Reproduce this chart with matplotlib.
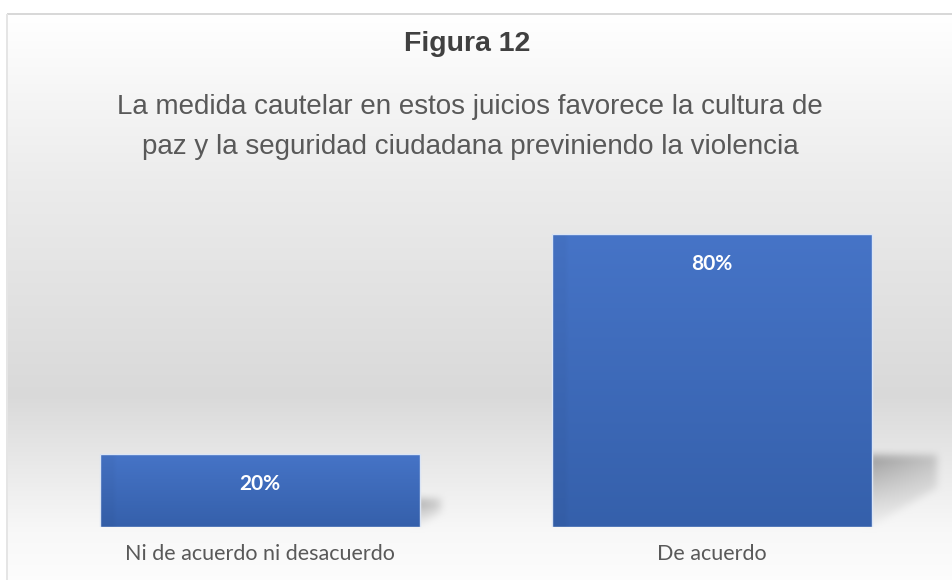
import numpy as np
import matplotlib
matplotlib.use("Agg")
import matplotlib.pyplot as plt

# ---- data ----
categories = ["Ni de acuerdo ni desacuerdo", "De acuerdo"]
values = [20, 80]
value_labels = ["20%", "80%"]
title = "Figura 12"
subtitle_lines = ["La medida cautelar en estos juicios favorece la cultura de",
                  "paz y la seguridad ciudadana previniendo la violencia"]

W, H, DPI = 952, 580, 100
fig = plt.figure(figsize=(W / DPI, H / DPI), dpi=DPI)
fig.patch.set_facecolor("white")

def fx(x):
    return x / W

def fy(y):
    return 1 - y / H

# main axes: bottom at 527px, 100 -> 161px
ax = fig.add_axes([0, fy(527), 1, (527 - 161) / H])
ax.set_facecolor("none")
x = np.arange(len(categories))
ax.set_xlim(-260 / 452, (W - 260) / 452)
ax.set_ylim(0, 100)
for s in ax.spines.values():
    s.set_visible(False)
ax.set_yticks([])
ax.set_xticks(x)
ax.set_xticklabels(categories, family="Lato", fontsize=15.5, color="#595959")
ax.tick_params(axis="x", length=0, pad=12)

bars = ax.bar(x, values, width=320 / 452, color="none",
              edgecolor="#dbe5f5", linewidth=1.0, zorder=3)

# gradient fill for bars
grad = np.linspace(0, 1, 256).reshape(-1, 1)
top_c = np.array([0x46, 0x74, 0xc7]) / 255
bot_c = np.array([0x35, 0x60, 0xab]) / 255
for b in bars:
    x0, y0 = b.get_x(), b.get_y()
    w, h = b.get_width(), b.get_height()
    img = top_c[None, None, :] * (1 - grad[:, :, None]) + bot_c[None, None, :] * grad[:, :, None]
    cols = np.ones((1, 64, 1))
    cols[:, :3, :] = 0.97
    img = np.clip(img * cols, 0, 1)
    im = ax.imshow(img, extent=[x0, x0 + w, y0, y0 + h], aspect="auto",
                   origin="upper", zorder=2, interpolation="bilinear")
    im.set_clip_path(b)

for xi, v, lab in zip(x, values, value_labels):
    ax.annotate(lab, (xi, v), xytext=(0, -30), textcoords="offset pixels",
                ha="center", va="center", color="white", fontsize=15,
                family="Lato", fontweight="bold", zorder=5)

# ---- background: gradient + shadows as one pixel image ----
rows = np.arange(H, dtype=float)
stops_y = [0, 14, 180, 395, 530, 580]
stops_v = [1.0, 1.0, 0.925, 0.852, 0.972, 0.99]
col = np.interp(rows, stops_y, stops_v)
bg = np.repeat(col[:, None], W, axis=1)
bg[:14, :] = 1.0
bg[:, :7] = 1.0

# shadows derived from bar geometry
shade = np.zeros((H, W))
fig.canvas.draw()
yy, xx = np.mgrid[0:H, 0:W]
for b in bars:
    (px0, py0), (px1, py1) = ax.transData.transform(
        [(b.get_x(), 0), (b.get_x() + b.get_width(), b.get_height())])
    right = px1 - 4
    bottom = H - py0
    hpx = py1 - py0
    sw = 0.2 * hpx + 10
    sh = 0.2 * hpx + 14
    top = bottom - sh
    inside = (xx >= right) & (xx <= right + sw) & (yy >= top) & (yy <= bottom)
    diag = (yy - bottom) <= -(xx - right) * (sh * 0.55) / sw
    mask = inside & diag
    fade_v = np.clip(1 - (yy - top) / sh, 0, 1)
    fade_h = np.clip(1 - 0.5 * (xx - right) / sw, 0.4, 1)
    shade = np.maximum(shade, mask * (0.30 * fade_v ** 1.3 + 0.03) * fade_h)

def blur(a, r):
    k = np.ones(2 * r + 1) / (2 * r + 1)
    a = np.apply_along_axis(lambda m: np.convolve(m, k, mode="same"), 0, a)
    a = np.apply_along_axis(lambda m: np.convolve(m, k, mode="same"), 1, a)
    return a

shade = blur(blur(shade, 4), 4)
bg = bg * (1 - shade)
bg[13:15, 7:] = 0.85
bg[14:, 6:8] = 0.90
rgb = np.dstack([bg, bg, bg])
fig.figimage(rgb, 0, 0, origin="upper", zorder=-5)

fig.text(fx(467), fy(44), title, ha="center", va="center", fontsize=20.5,
         fontweight="bold", color="#404040", family="Liberation Sans")
for i, line in enumerate(subtitle_lines):
    fig.text(fx(470), fy(107 + 40 * i), line, ha="center", va="center",
             fontsize=20, color="#595959", family="Liberation Sans")

fig.savefig("out.png", dpi=DPI)
